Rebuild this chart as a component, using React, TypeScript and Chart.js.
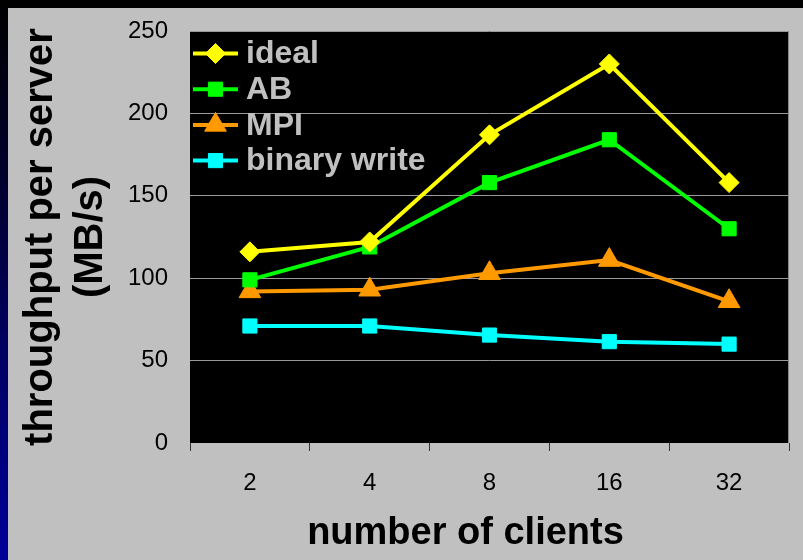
import { useEffect, useRef } from 'react';
import { Chart, registerables } from 'chart.js';
import { drawPoint } from 'chart.js/helpers';

Chart.register(...registerables);

// Throughput per server (MB/s) by number of clients
const clients = ['2', '4', '8', '16', '32'];
const ideal = [116, 122, 187, 230, 158];
const ab = [99, 119, 158, 184, 130];
const mpi = [92, 93, 103, 111, 86];
const binaryWrite = [71, 71, 65.5, 61.5, 60];
const seriesNames = ['ideal', 'AB', 'MPI', 'binary write'];
const yTicks = [0, 50, 100, 150, 200, 250];

const FONT = '"Liberation Sans", Arial, Helvetica, sans-serif';

// Black plot background
const plotBackground = {
  id: 'plotBackground',
  beforeDraw(chart: any) {
    const { ctx, chartArea: a } = chart;
    ctx.save();
    ctx.fillStyle = '#000000';
    ctx.fillRect(a.left, a.top, a.right - a.left, a.bottom - a.top);
    ctx.restore();
  },
};

// Grey right-hand edge of the plot
const plotFrame = {
  id: 'plotFrame',
  beforeDatasetsDraw(chart: any) {
    const { ctx, chartArea: a } = chart;
    ctx.save();
    ctx.strokeStyle = '#8a8a8a';
    ctx.lineWidth = 1;
    ctx.beginPath();
    ctx.moveTo(a.right - 0.5, a.top);
    ctx.lineTo(a.right - 0.5, a.bottom);
    ctx.stroke();
    ctx.restore();
  },
};

// Legend inside the plot: line sample with marker, then the series name
const insideLegend = {
  id: 'insideLegend',
  afterDraw(chart: any) {
    const { ctx, chartArea: a } = chart;
    ctx.save();
    chart.data.datasets.forEach((ds: any, i: number) => {
      const y = a.top + 22.5 + i * 35.7;
      const x0 = a.left + 3;
      const x1 = a.left + 48;
      ctx.strokeStyle = ds.borderColor;
      ctx.lineWidth = ds.borderWidth;
      ctx.beginPath();
      ctx.moveTo(x0, y);
      ctx.lineTo(x1, y);
      ctx.stroke();
      ctx.fillStyle = ds.pointBackgroundColor;
      ctx.strokeStyle = ds.pointBorderColor;
      ctx.lineWidth = 1;
      drawPoint(ctx, { pointStyle: ds.pointStyle, radius: ds.pointRadius, rotation: 0, borderWidth: 1 } as any, (x0 + x1) / 2, y);
      ctx.fillStyle = '#c0c0c0';
      ctx.font = `bold 32px ${FONT}`;
      ctx.textAlign = 'left';
      ctx.textBaseline = 'middle';
      ctx.fillText(ds.label, a.left + 56, y + 1);
    });
    ctx.restore();
  },
};

// Horizontal axis title
const xAxisTitle = {
  id: 'xAxisTitle',
  afterDraw(chart: any) {
    const { ctx, chartArea: a } = chart;
    ctx.save();
    ctx.fillStyle = '#000000';
    ctx.font = `bold 38px ${FONT}`;
    ctx.textAlign = 'center';
    ctx.textBaseline = 'alphabetic';
    ctx.fillText('number of clients', (a.left + a.right) / 2 - 24, a.bottom + 101);
    ctx.restore();
  },
};

export default function App() {
  const canvasRef = useRef<HTMLCanvasElement | null>(null);

  useEffect(() => {
    if (!canvasRef.current) return;
    const mk = (label: string, data: number[], color: string, pointStyle: string, radius: number) => ({
      label,
      data,
      borderColor: color,
      backgroundColor: color,
      pointBackgroundColor: color,
      pointBorderColor: color,
      pointBorderWidth: 1,
      borderWidth: 4,
      pointStyle,
      pointRadius: radius,
      tension: 0,
    });

    const chart = new Chart(canvasRef.current, {
      type: 'line',
      data: {
        labels: clients,
        datasets: [
          mk(seriesNames[0], ideal, '#ffff00', 'rectRot', 10),
          mk(seriesNames[1], ab, '#00ff00', 'rect', 10),
          mk(seriesNames[2], mpi, '#ff9900', 'triangle', 12.5),
          mk(seriesNames[3], binaryWrite, '#00ffff', 'rect', 10),
        ],
      },
      options: {
        animation: false,
        responsive: false,
        devicePixelRatio: 1,
        layout: { padding: { top: 23, right: 14, left: 0, bottom: 0 } },
        plugins: {
          legend: { display: false },
          tooltip: { enabled: false },
        },
        scales: {
          x: {
            type: 'category',
            offset: true,
            grid: {
              offset: true,
              drawOnChartArea: false,
              drawTicks: true,
              tickLength: 8,
              color: '#333333',
              lineWidth: 1,
            },
            border: { display: false },
            ticks: { color: '#000000', font: { size: 24, family: FONT }, padding: 18 },
            afterFit: (s: any) => {
              s.height = 117;
              s.paddingLeft = 0;
              s.paddingRight = 0;
            },
          },
          y: {
            min: yTicks[0],
            max: yTicks[yTicks.length - 1],
            ticks: {
              stepSize: yTicks[1] - yTicks[0],
              color: '#000000',
              font: { size: 24, family: FONT },
              padding: 22,
            },
            grid: {
              drawTicks: false,
              lineWidth: 1,
              color: (c: any) => (c.tick && c.tick.value === 0 ? 'rgba(0,0,0,0)' : '#999999'),
            },
            border: { display: false },
            title: {
              display: true,
              text: ['throughput per server', '(MB/s)'],
              color: '#000000',
              font: { size: 40, weight: 'bold', family: FONT, lineHeight: 1.25 },
              padding: { top: 8, bottom: 0 },
            },
            afterFit: (s: any) => {
              s.width = 182;
              s.paddingTop = 0;
              s.paddingBottom = 0;
            },
          },
        },
      } as any,
      plugins: [plotBackground, plotFrame, insideLegend, xAxisTitle],
    });
    return () => chart.destroy();
  }, []);

  return (
    <div
      style={{
        position: 'fixed',
        inset: 0,
        overflow: 'hidden',
        background: 'linear-gradient(to bottom, #000000 0%, #00002a 30%, #000066 65%, #000099 100%)',
      }}
    >
      <div
        style={{
          position: 'absolute',
          left: 8,
          top: 8,
          width: 795,
          height: 552,
          background: '#c0c0c0',
        }}
      >
        <canvas ref={canvasRef} width={795} height={552} style={{ display: 'block', width: 795, height: 552 }} />
      </div>
    </div>
  );
}
